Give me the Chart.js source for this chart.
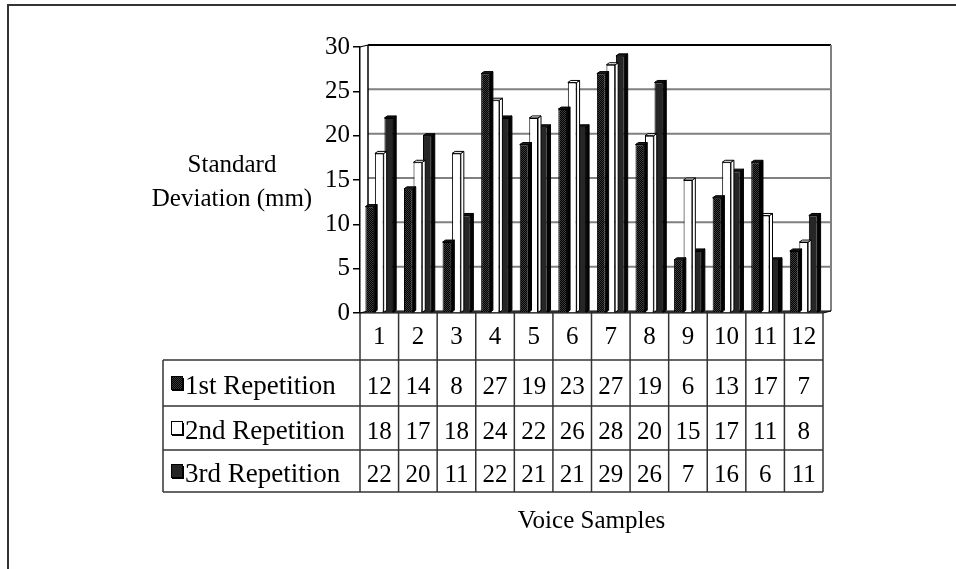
<!DOCTYPE html>
<html>
<head>
<meta charset="utf-8">
<script src="https://cdn.jsdelivr.net/npm/chart.js@4/dist/chart.umd.min.js"></script>
<style>
  html, body { margin: 0; padding: 0; background: #fff; }
  canvas { display: block; }
</style>
</head>
<body>
<canvas id="chart" width="956" height="569"></canvas>
<script>
// ---- data ----
const categories = ['1', '2', '3', '4', '5', '6', '7', '8', '9', '10', '11', '12'];
const seriesNames = ['1st Repetition', '2nd Repetition', '3rd Repetition'];
const rep1 = [12, 14, 8, 27, 19, 23, 27, 19, 6, 13, 17, 7];
const rep2 = [18, 17, 18, 24, 22, 26, 28, 20, 15, 17, 11, 8];
const rep3 = [22, 20, 11, 22, 21, 21, 29, 26, 7, 16, 6, 11];
const yMin = 0, yMax = 30, yStep = 5;
const yTitleLines = ['Standard', 'Deviation (mm)'];
const xTitle = 'Voice Samples';

// ---- look ----
const FONT = '25px "Liberation Serif", "Times New Roman", serif';
const ROW_FONT = '27px "Liberation Serif", "Times New Roman", serif';
const WALL_DX = 8, WALL_DY = 2;   // depth of the back wall
const BAR_DX = 3, BAR_DY = 2;     // depth of each column
const TABLE_ROWS = [360, 406, 450, 492]; // bottom edges: category row, then one per series
const TABLE_LEFT = 163;
const LINE = '#333';

const canvas = document.getElementById('chart');
const ctx = canvas.getContext('2d');

function stipple(base, dot) {
  const p = document.createElement('canvas');
  p.width = 2; p.height = 2;
  const g = p.getContext('2d');
  g.fillStyle = base; g.fillRect(0, 0, 2, 2);
  g.fillStyle = dot; g.fillRect(0, 0, 1, 1); g.fillRect(1, 1, 1, 1);
  return ctx.createPattern(p, 'repeat');
}

const faces = [
  { front: stipple('#000', '#3c3c3c'), side: '#000', top: '#1c1c1c', edge: '#000' },
  { front: '#fff', side: '#fff', top: '#fff', edge: '#000' },
  { front: '#262626', side: '#050505', top: '#141414', edge: '#000' }
];

function poly(c, pts, fill, stroke, lw) {
  c.beginPath();
  c.moveTo(pts[0][0], pts[0][1]);
  for (let i = 1; i < pts.length; i++) c.lineTo(pts[i][0], pts[i][1]);
  c.closePath();
  if (fill) { c.fillStyle = fill; c.fill(); }
  if (stroke) { c.strokeStyle = stroke; c.lineWidth = lw || 1; c.stroke(); }
}

function line(c, x1, y1, x2, y2, color, lw) {
  c.beginPath();
  c.moveTo(x1, y1); c.lineTo(x2, y2);
  c.strokeStyle = color; c.lineWidth = lw; c.stroke();
}

const depthPlugin = {
  id: 'depth',
  beforeDatasetsDraw(chart) {
    const c = chart.ctx, a = chart.chartArea, y = chart.scales.y;
    c.save();
    const bl = a.left + WALL_DX, br = a.right + WALL_DX;
    // gridlines on the back wall
    for (let v = yMin + yStep; v < yMax; v += yStep) {
      const py = y.getPixelForValue(v) - WALL_DY;
      line(c, bl, py, br, py, '#808080', 2);
    }
    const top = y.getPixelForValue(yMax) - WALL_DY;
    const bottom = y.getPixelForValue(yMin) - WALL_DY;
    line(c, bl, top, br, top, '#000', 2);
    line(c, br, top, br, bottom, '#808080', 2);
    line(c, bl, top, bl, bottom, '#000', 1.5);
    line(c, a.left, top + WALL_DY, bl, top, '#000', 1.2);
    // floor
    const y0 = y.getPixelForValue(yMin);
    poly(c, [[a.left, y0], [a.right, y0], [br, y0 - WALL_DY], [bl, y0 - WALL_DY]], '#5a5a5a', '#000', 1);
    c.restore();
  },
  afterDatasetDraw(chart, args) {
    const c = chart.ctx;
    const f = faces[args.index];
    c.save();
    args.meta.data.forEach(el => {
      const p = el.getProps(['x', 'y', 'base', 'width'], true);
      const l = p.x - p.width / 2, r = p.x + p.width / 2;
      poly(c, [[r, p.y], [r + BAR_DX, p.y - BAR_DY], [r + BAR_DX, p.base - BAR_DY], [r, p.base]], f.side, f.edge, 1);
      poly(c, [[l, p.y], [l + BAR_DX, p.y - BAR_DY], [r + BAR_DX, p.y - BAR_DY], [r, p.y]], f.top, f.edge, 1);
    });
    c.restore();
  },
  afterDraw(chart) {
    const c = chart.ctx, a = chart.chartArea, x = chart.scales.x, y = chart.scales.y;
    const series = chart.data.datasets;
    const half = (x.getPixelForValue(1) - x.getPixelForValue(0)) / 2;
    const y0 = y.getPixelForValue(yMin);
    c.save();
    // data table grid
    const lastRow = TABLE_ROWS[TABLE_ROWS.length - 1];
    TABLE_ROWS.forEach(ry => line(c, TABLE_LEFT, ry, a.right, ry, LINE, 1.5));
    line(c, TABLE_LEFT, TABLE_ROWS[0], TABLE_LEFT, lastRow, LINE, 1.5);
    for (let i = 0; i <= categories.length; i++) {
      const px = i < categories.length ? x.getPixelForValue(i) - half : x.getPixelForValue(i - 1) + half;
      line(c, px, y0, px, lastRow, LINE, 1.5);
    }
    // series rows: legend key, name, values
    c.textBaseline = 'alphabetic';
    series.forEach((ds, s) => {
      const rTop = TABLE_ROWS[s], rBot = TABLE_ROWS[s + 1];
      const mid = (rTop + rBot) / 2;
      const f = faces[s];
      // key
      c.fillStyle = '#000';
      c.fillRect(TABLE_LEFT + 9, mid - 5, 12, 13);
      c.fillStyle = f.front;
      c.fillRect(TABLE_LEFT + 8, mid - 7, 11, 13);
      c.strokeStyle = '#000'; c.lineWidth = 1;
      c.strokeRect(TABLE_LEFT + 8.5, mid - 6.5, 11, 13);
      c.fillStyle = '#000';
      c.textAlign = 'left';
      c.font = ROW_FONT;
      c.fillText(ds.label, TABLE_LEFT + 22, mid + 11);
      c.font = FONT;
      c.textAlign = 'center';
      ds.data.forEach((v, i) => c.fillText(String(v), x.getPixelForValue(i), mid + 11));
    });
    // axis titles
    c.font = FONT;
    c.textAlign = 'center';
    c.fillText(yTitleLines[0], 232, 172);
    c.fillText(yTitleLines[1], 232, 206);
    c.fillText(xTitle, (a.left + a.right) / 2, 528);
    // outer frame
    c.beginPath();
    c.moveTo(8, 569); c.lineTo(8, 5); c.lineTo(956, 5);
    c.strokeStyle = '#333'; c.lineWidth = 2; c.stroke();
    c.restore();
  }
};

new Chart(ctx, {
  type: 'bar',
  data: {
    labels: categories,
    datasets: [rep1, rep2, rep3].map((d, i) => ({
      label: seriesNames[i],
      data: d,
      backgroundColor: faces[i].front,
      borderColor: '#000',
      borderWidth: 1,
      borderSkipped: 'bottom',
      barPercentage: 0.92,
      categoryPercentage: 0.74
    }))
  },
  options: {
    responsive: false,
    animation: false,
    devicePixelRatio: 1,
    layout: { padding: { top: 47, right: 133, bottom: 0, left: 0 } },
    plugins: { legend: { display: false }, tooltip: { enabled: false }, title: { display: false } },
    scales: {
      x: {
        grid: { display: false, drawTicks: false },
        border: { display: false },
        ticks: { color: '#000', font: { family: '"Liberation Serif", serif', size: 25 }, padding: 9, maxRotation: 0, autoSkip: false },
        afterFit: s => { s.height = 256; }
      },
      y: {
        min: yMin, max: yMax,
        ticks: { stepSize: yStep, color: '#000', padding: 3, font: { family: '"Liberation Serif", serif', size: 25 } },
        grid: { drawOnChartArea: false, tickLength: 7, tickColor: '#000', lineWidth: 1.5 },
        border: { display: true, color: '#000', width: 1.5 },
        afterFit: s => { s.width = 360; }
      }
    }
  },
  plugins: [depthPlugin]
});
</script>
</body>
</html>
